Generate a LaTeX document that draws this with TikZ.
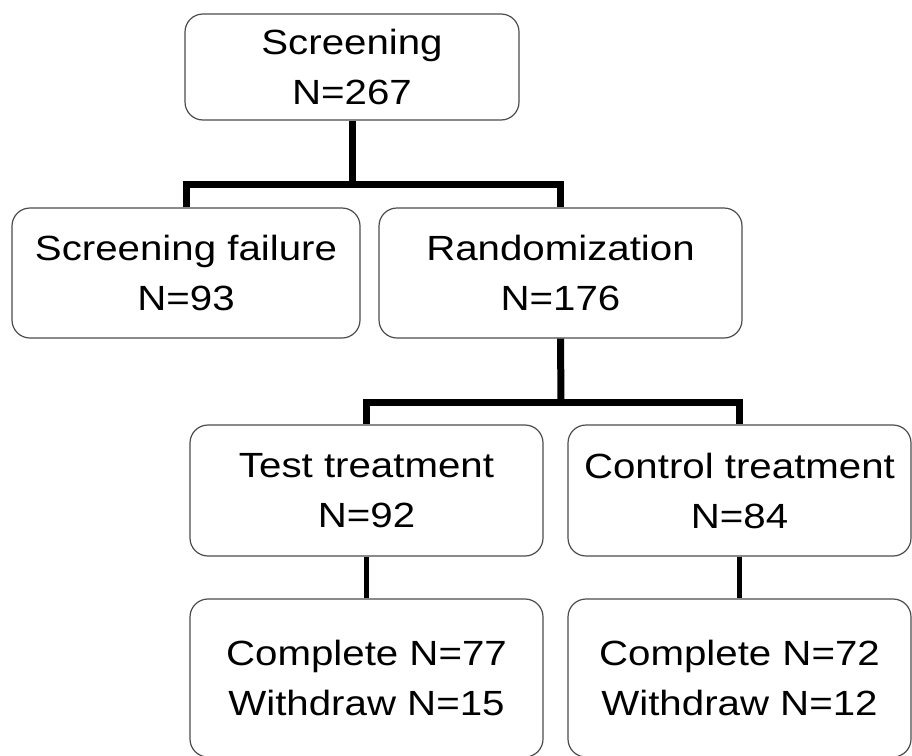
\documentclass[tikz,border=0pt]{standalone}
\usepackage{fontspec}
\setmainfont{Liberation Sans}[FakeStretch=1.15]
\begin{document}
\begin{tikzpicture}[x=1pt,y=-1pt,
  box/.style={draw=black!70, line width=1.2pt, rounded corners=18pt, fill=white,
    align=center, inner sep=0pt, font=\fontsize{35}{50}\selectfont},
  bar/.style={line width=7pt, line join=miter, black},
  link/.style={line width=5pt, black}]
  \useasboundingbox (0,0) rectangle (912,755);

  % boxes
  \node[box, minimum width=334pt, minimum height=106pt] (scr)   at (352,67)      {Screening\\N=267};
  \node[box, minimum width=348pt, minimum height=130pt] (fail)  at (186,273)     {Screening failure\\N=93};
  \node[box, minimum width=363pt, minimum height=130pt] (rand)  at (560.5,273)   {Randomization\\N=176};
  \node[box, minimum width=353pt, minimum height=131pt] (test)  at (366.5,490.5) {Test treatment\\N=92};
  \node[box, minimum width=343pt, minimum height=131pt] (ctrl)  at (739.5,490.5) {Control treatment\\N=84};
  \node[box, minimum width=353pt, minimum height=158pt] (tcomp) at (366.5,678)   {Complete N=77\\Withdraw N=15};
  \node[box, minimum width=343pt, minimum height=158pt] (ccomp) at (739.5,678)   {Complete N=72\\Withdraw N=12};

  % branching connectors
  \coordinate (barA) at (352,184);
  \coordinate (barB) at (561,402);
  \draw[bar] (scr.south) -- (barA);
  \draw[bar] (fail.north) |- (barA) -| (rand.north);
  \draw[bar] (rand.south) -- (barB);
  \draw[bar] (test.north) |- (barB) -| (ctrl.north);
  \draw[link] (test.south) -- (tcomp.north);
  \draw[link] (ctrl.south) -- (ccomp.north);
\end{tikzpicture}
\end{document}
